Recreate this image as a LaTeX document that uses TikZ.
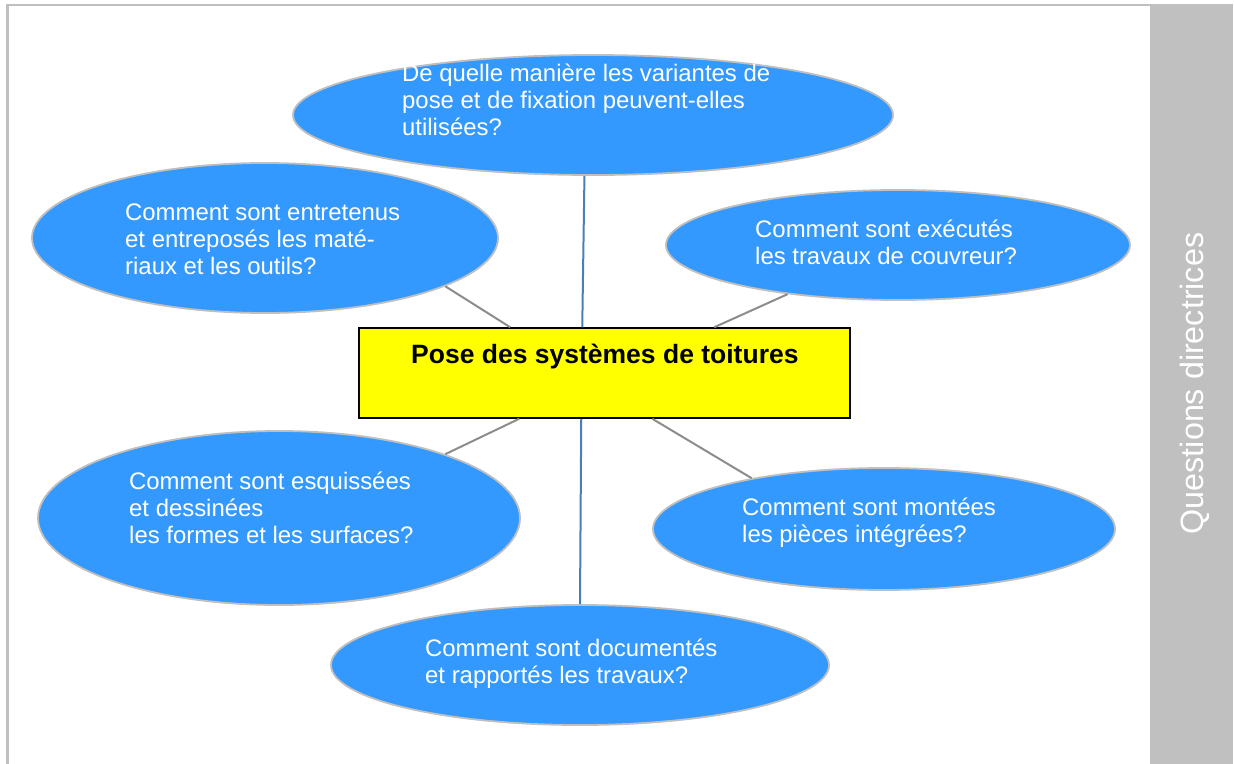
\documentclass[tikz,border=0pt]{standalone}
\usepackage{fontspec}
\setmainfont{Liberation Sans}
\usetikzlibrary{shapes.geometric}
\definecolor{qblue}{HTML}{3399FF}
\definecolor{qedge}{HTML}{BFBFBF}
\definecolor{qgray}{HTML}{C0C0C0}
\definecolor{qline}{HTML}{8C8C8C}
\definecolor{qbline}{HTML}{4A7EBB}
\definecolor{qyellow}{HTML}{FFFF00}
\tikzset{
  bubble/.style={ellipse, fill=qblue, draw=qedge, line width=1.8pt, inner sep=0pt},
  qtext/.style={anchor=base west, align=left, inner sep=0pt, text=white,
    font=\fontsize{23.9}{27}\selectfont},
  grayconn/.style={draw=qline, line width=2pt},
  blueconn/.style={draw=qbline, line width=2pt},
  titlebox/.style={draw=black, line width=1.5pt, fill=qyellow, inner sep=0pt}
}
\begin{document}
\begin{tikzpicture}[x=1pt,y=-1pt]
\useasboundingbox (0,0) rectangle (1234,763);
% frame and sidebar
\draw[qgray, line width=2.5pt] (7.5,764) -- (7.5,5) -- (1151,5);
\fill[qgray] (1150,4) rectangle (1233,764);
\node[rotate=90, anchor=base, text=white, inner sep=0pt,
  font=\fontsize{32.3}{36}\selectfont] (side) at (1203,383.5) {Questions directrices};
% bubbles
\node[bubble, minimum width=600pt, minimum height=120pt] (e1) at (593,115) {};
\node[bubble, minimum width=466pt, minimum height=150pt] (e2) at (265,238) {};
\node[bubble, minimum width=464pt, minimum height=110pt] (e3) at (898,245) {};
\node[bubble, minimum width=482pt, minimum height=174pt] (e4) at (279,518) {};
\node[bubble, minimum width=462pt, minimum height=122pt] (e5) at (884,529) {};
\node[bubble, minimum width=498pt, minimum height=120pt] (e6) at (580,665) {};
% centre box
\node[titlebox, minimum width=491pt, minimum height=90pt] (box) at (604.5,373) {};
\node[anchor=base west, inner sep=0pt, font=\fontsize{26.5}{30}\selectfont\bfseries]
  (title) at (411,363) {Pose des systèmes de toitures};
% texts (anchor = baseline of last line)
\node[qtext] (t1) at (402,135.5) {De quelle manière les variantes de\\pose et de fixation peuvent-elles\\utilisées?};
\node[qtext] (t2) at (125,274) {Comment sont entretenus\\et entreposés les maté-\\riaux et les outils?};
\node[qtext] (t3) at (755,264.5) {Comment sont exécutés\\les travaux de couvreur?};
\node[qtext] (t4) at (129,543) {Comment sont esquissées\\et dessinées\\les formes et les surfaces?};
\node[qtext] (t5) at (742,542) {Comment sont montées\\les pièces intégrées?};
\node[qtext] (t6) at (425,683) {Comment sont documentés\\et rapportés les travaux?};
% connectors
\draw[blueconn] (e1.-98) -- ([xshift=224pt]box.north west);
\draw[blueconn] ([xshift=223pt]box.south west) -- (e6.90);
\draw[grayconn] (e2.-15) -- ([xshift=152pt]box.north west);
\draw[grayconn] (e3.-156) -- ([xshift=356pt]box.north west);
\draw[grayconn] ([xshift=161pt]box.south west) -- (e4.21);
\draw[grayconn] ([xshift=294pt]box.south west) -- (e5.159);
\end{tikzpicture}
\end{document}
